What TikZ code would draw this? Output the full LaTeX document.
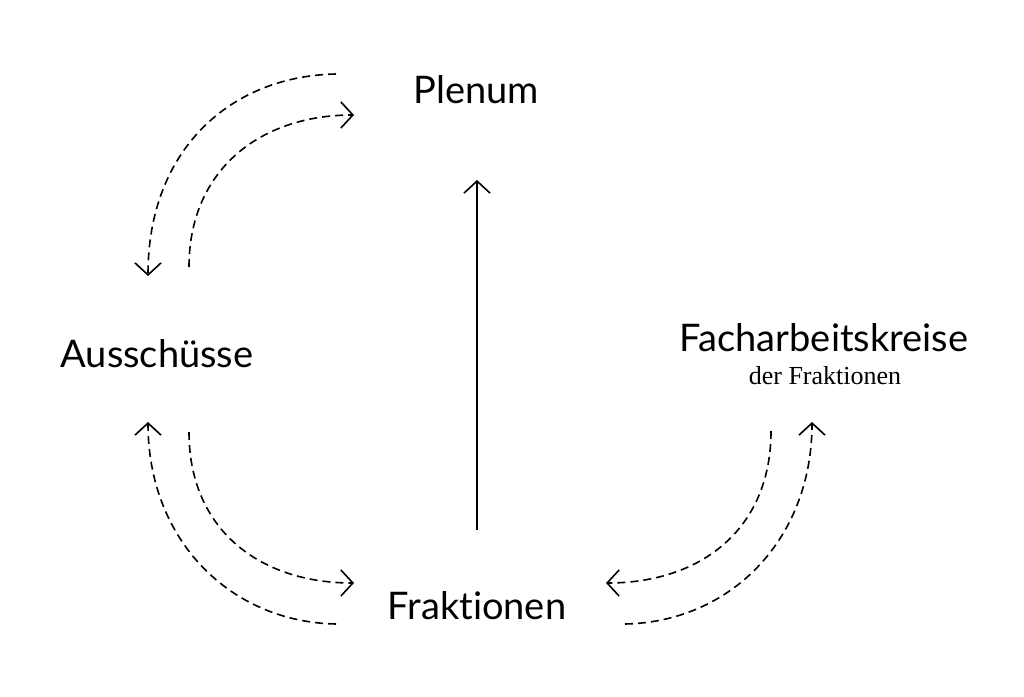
\documentclass[tikz,border=0pt]{standalone}
\usepackage{fontspec}
\setmainfont[Ligatures=NoCommon]{Lato}
\newfontfamily\serifsub{Liberation Serif}
\usetikzlibrary{arrows.meta}
\begin{document}
\begin{tikzpicture}[x=1pt,y=-1pt,
  lbl/.style={font=\fontsize{38}{42}\selectfont, inner sep=0pt},
  tipopen/.style={-{Straight Barb[length=12pt,width=26pt,line width=1.6pt]}},
  flow/.style={tipopen, dashed, dash pattern=on 8pt off 5pt, line width=1.6pt},
  main/.style={tipopen, line width=1.6pt}]
\useasboundingbox (0,0) rectangle (1024,696);
\node[lbl] (plenum) at (476,90) {Plenum};
\node[lbl] (aus) at (157,354) {Ausschüsse};
\node[lbl] (fak) at (824,338) {Facharbeitskreise};
\node[inner sep=0pt, font=\serifsub\fontsize{26}{30}\selectfont] (fak2) at (825,376) {der Fraktionen};
\node[lbl] (frak) at (477,606) {Fraktionen};
% coordinates for free ends
\coordinate (m1) at (477,530);
\coordinate (m2) at (477,180);
\coordinate (a1) at (336,74);
\coordinate (a2) at (148,276);
\coordinate (b1) at (189,267);
\coordinate (b2) at (354,115);
\coordinate (c1) at (336,624);
\coordinate (c2) at (148,422);
\coordinate (d1) at (189,432);
\coordinate (d2) at (354,583);
\coordinate (e1) at (771,431);
\coordinate (e2) at (606,583);
\coordinate (f1) at (625,624);
\coordinate (f2) at (812,422);
\draw[main] (m1) -- (m2);
\draw[flow] (a1) .. controls (230,76) and (148,150) .. (a2);
\draw[flow] (b1) .. controls (189,170) and (260,115) .. (b2);
\draw[flow] (c1) .. controls (230,622) and (148,540) .. (c2);
\draw[flow] (d1) .. controls (189,530) and (260,583) .. (d2);
\draw[flow] (e1) .. controls (771,530) and (700,583) .. (e2);
\draw[flow] (f1) .. controls (730,622) and (812,540) .. (f2);
\end{tikzpicture}
\end{document}
